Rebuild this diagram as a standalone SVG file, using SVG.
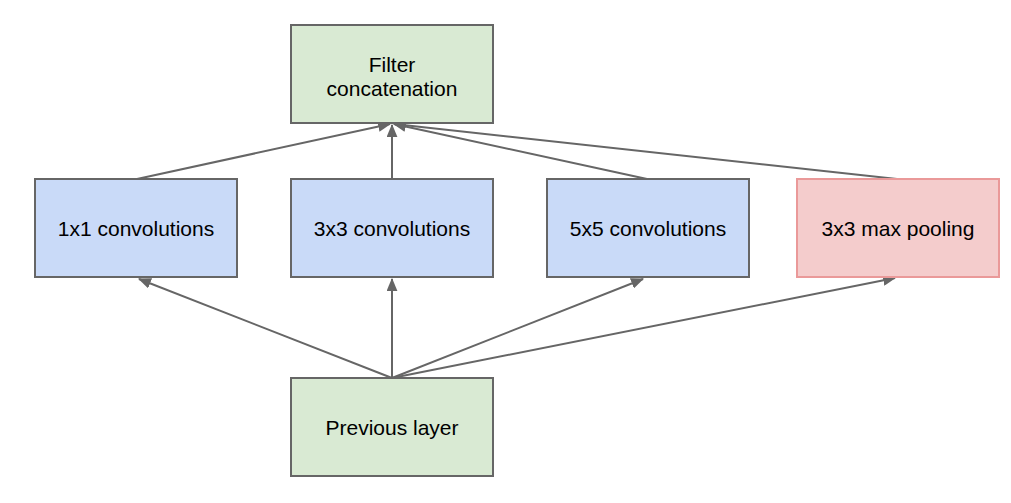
<svg xmlns="http://www.w3.org/2000/svg" width="1011" height="503" viewBox="0 0 1011 503">
<style>
.box{stroke:#666666;stroke-width:2}
.g{fill:#d9ead3}.b{fill:#c9daf8}.r{fill:#f4cccc;stroke:#ea9999}
text{font-family:"Liberation Sans",Arial,sans-serif;font-size:21px;fill:#000;text-anchor:middle}
.c{stroke:#666666;stroke-width:2;fill:none;marker-end:url(#ah)}
</style>
<defs>
<marker id="ah" viewBox="0 0 12 10" refX="11" refY="5" markerWidth="6.5" markerHeight="5.5" orient="auto" markerUnits="strokeWidth">
<path d="M0,0 L12,5 L0,10 z" fill="#666666"/>
</marker>
</defs>
<rect width="1011" height="503" fill="#ffffff"/>
<g id="connectors">
<line class="c" x1="137" y1="179" x2="390" y2="124"/>
<line class="c" x1="392" y1="179" x2="392" y2="125"/>
<line class="c" x1="647" y1="179" x2="394" y2="124"/>
<line class="c" x1="897" y1="179" x2="394" y2="124"/>
<line class="c" x1="392" y1="378" x2="139" y2="279"/>
<line class="c" x1="392" y1="378" x2="392" y2="279"/>
<line class="c" x1="392" y1="378" x2="643" y2="279"/>
<line class="c" x1="392" y1="378" x2="895" y2="278"/>
</g>
<g id="filter-concat">
<rect class="box g" x="291" y="25" width="202" height="98"/>
<text x="392" y="72">Filter</text>
<text x="392" y="96">concatenation</text>
</g>
<g id="conv1x1">
<rect class="box b" x="35" y="179" width="202" height="98"/>
<text x="136" y="236">1x1 convolutions</text>
</g>
<g id="conv3x3">
<rect class="box b" x="291" y="179" width="202" height="98"/>
<text x="392" y="236">3x3 convolutions</text>
</g>
<g id="conv5x5">
<rect class="box b" x="547" y="179" width="202" height="98"/>
<text x="648" y="236">5x5 convolutions</text>
</g>
<g id="maxpool">
<rect class="box r" x="797" y="179" width="202" height="98"/>
<text x="898" y="236">3x3 max pooling</text>
</g>
<g id="previous">
<rect class="box g" x="291" y="378" width="202" height="98"/>
<text x="392" y="435">Previous layer</text>
</g>
</svg>
